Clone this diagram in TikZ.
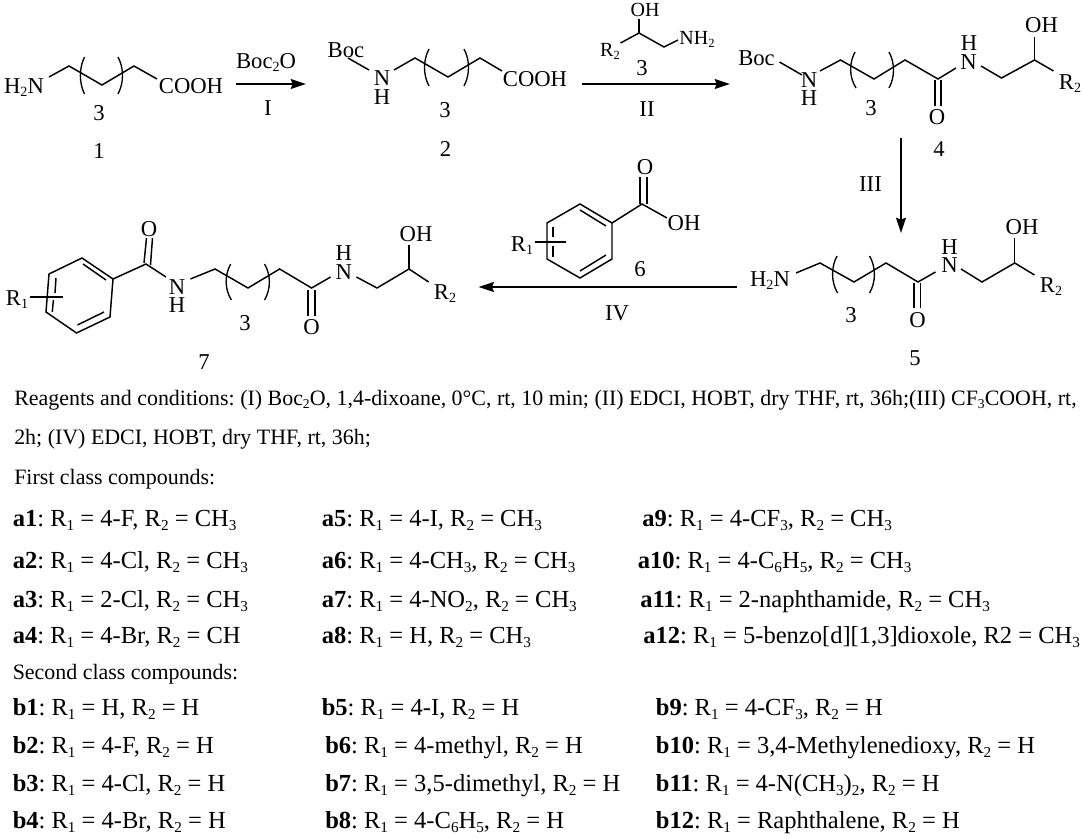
\documentclass[tikz,border=0pt]{standalone}
\usepackage{fontspec}
\setmainfont{Liberation Serif}
\usetikzlibrary{arrows.meta}
\newcommand{\sbx}[1]{\raisebox{-.32ex}{\scalebox{.62}{#1}}}
\tikzset{
  atom/.style={anchor=base,yshift=-5.6pt,inner sep=0pt,font=\fontsize{17}{20}\selectfont},
  small/.style={atom,font=\fontsize{15}{18}\selectfont},
  body/.style={anchor=base west,yshift=-5pt,inner sep=0pt,font=\fontsize{16.45}{19}\selectfont\frenchspacing},
  row/.style={anchor=base west,yshift=-5pt,inner sep=0pt,font=\fontsize{18.4}{20}\selectfont\frenchspacing},
  bond/.style={line width=1.1pt,line join=miter},
  paren/.style={line width=1pt},
  rxn/.style={line width=1.1pt,-{Stealth[length=11.5pt,width=7.5pt,inset=1.5pt]}},
}
\begin{document}
\begin{tikzpicture}[x=.75pt,y=-.75pt]
\useasboundingbox[fill=white] (0,0) rectangle (1084,838);
% compound 1
\node[atom] (h2n1) at (24,86) {H\sbx{2}N};
\node[atom] (cooh1) at (191,86) {COOH};
\node[atom] (n31) at (99,113) {3};
\node[atom] (lab1) at (99,151) {1};
\draw[bond] (49,77)--(69,66)--(102,85)--(134,66)--(157,79);
\draw[paren] (84.5,57) .. controls (79,68) and (79,83) .. (84.5,94);
\draw[paren] (118,57) .. controls (124,68) and (124,83) .. (118,94);
% arrow I
\coordinate (i1) at (235.5,84); \coordinate (i2) at (306,84);
\draw[rxn] (i1)--(i2);
\node[atom] (boc2o) at (266,61) {Boc\sbx{2}O};
\node[atom] (rI) at (268,108) {I};
% compound 2
\node[atom] (boc2) at (346,50) {Boc};
\node[atom] (n2) at (382,78) {N};
\node[atom] (h2) at (382,97) {H};
\node[atom] (cooh2) at (535,79) {COOH};
\node[atom] (n32) at (445,110) {3};
\node[atom] (lab2) at (445.5,149) {2};
\draw[bond] (348,58)--(369,70);
\draw[bond] (394,70)--(415,58)--(448,77)--(480,58)--(502,71);
\draw[paren] (429,49) .. controls (423,60) and (423,75) .. (429,86);
\draw[paren] (464,49) .. controls (470,60) and (470,75) .. (464,86);
% arrow II with reagent 3
\coordinate (ii1) at (582,84); \coordinate (ii2) at (730,84);
\draw[rxn] (ii1)--(ii2);
\node[small] (oh3) at (645,9) {OH};
\node[small] (r23) at (610,49) {R\sbx{2}};
\node[small] (nh23) at (697,37) {NH\sbx{2}};
\draw[bond] (639,19)--(639,33);
\draw[bond] (620.5,43)--(639,33)--(664,47)--(678,40);
\node[atom] (lab3) at (642,68) {3};
\node[atom] (rII) at (647,109) {II};
% compound 4
\node[atom] (boc4) at (756.5,58) {Boc};
\node[atom] (n4a) at (809,80) {N};
\node[atom] (h4a) at (809,98) {H};
\node[atom] (n34) at (871,108) {3};
\node[atom] (o4) at (937,117) {O};
\node[atom] (n4b) at (968.5,62) {N};
\node[atom] (h4b) at (969,43) {H};
\node[atom] (oh4) at (1041.5,25) {OH};
\node[atom] (r24) at (1070,82) {R\sbx{2}};
\node[atom] (lab4) at (939,149) {4};
\draw[bond] (779.5,62)--(802,75);
\draw[bond] (820,71)--(840.5,60)--(874,79)--(905,60)--(938,79)--(956,68);
\draw[bond] (935,80)--(935,106) (941,80)--(941,106);
\draw[bond] (981,66)--(1001.5,78)--(1034.5,60)--(1053.5,71);
\draw[bond] (1034.5,60)--(1034.5,37);
\draw[paren] (855,52) .. controls (849,63) and (849,77) .. (856,88);
\draw[paren] (889,52) .. controls (895,63) and (895,77) .. (889,88);
% arrow III
\coordinate (iii1) at (901,138); \coordinate (iii2) at (901,233);
\draw[rxn] (iii1)--(iii2);
\node[atom] (rIII) at (870.5,184) {III};
% compound 5
\node[atom] (h2n5) at (770,279) {H\sbx{2}N};
\node[atom] (n35) at (851,315) {3};
\node[atom] (o5) at (917.5,320) {O};
\node[atom] (n5) at (949.5,265) {N};
\node[atom] (h5) at (949.5,247) {H};
\node[atom] (oh5) at (1022,227) {OH};
\node[atom] (r25) at (1051,285) {R\sbx{2}};
\node[atom] (lab5) at (915,358) {5};
\draw[bond] (796,273)--(820,263)--(854,282)--(886,263)--(918,282)--(935.5,272);
\draw[bond] (914,283)--(914,308) (920.6,283)--(920.6,308);
\draw[bond] (961,269)--(982,282)--(1014.7,263)--(1034.5,275);
\draw[bond] (1014.7,263)--(1014.7,238);
\draw[paren] (837,256) .. controls (831,267) and (831,282) .. (837.5,293);
\draw[paren] (869.6,256) .. controls (876,267) and (876,282) .. (869.6,293);
% arrow IV with reagent 6
\coordinate (iv1) at (737,287); \coordinate (iv2) at (478.6,287);
\draw[rxn] (iv1)--(iv2);
\node[atom] (rIV) at (617,313) {IV};
\node[atom] (lab6) at (640,269) {6};
\node[atom] (r16) at (522,244) {R\sbx{1}};
\node[atom] (o6) at (645,167) {O};
\node[atom] (oh6) at (684,223) {OH};
\draw[bond] (580,204)--(612,223)--(612,259)--(580,278)--(547,259)--(547,223)--cycle;
\draw[bond] (580,210)--(606,226) (580,271)--(606,255);
\draw[bond] (553,227)--(553,237) (553,246)--(553,257);
\draw[bond] (535,242)--(566,242);
\draw[bond] (612,223)--(642,204)--(667,218);
\draw[bond] (640,204)--(640,177) (647,204)--(647,177);
% compound 7
\node[atom] (r17) at (17,298) {R\sbx{1}};
\node[atom] (o7a) at (149,229) {O};
\node[atom] (n7a) at (177,287) {N};
\node[atom] (h7a) at (177,305) {H};
\node[atom] (n37) at (245,323) {3};
\node[atom] (o7b) at (311.6,327) {O};
\node[atom] (n7b) at (343.7,272) {N};
\node[atom] (h7b) at (343.7,253) {H};
\node[atom] (oh7) at (416,234) {OH};
\node[atom] (r27) at (445,292) {R\sbx{2}};
\node[atom] (lab7) at (204,362) {7};
\draw[bond] (82,258)--(113,279)--(110,317)--(76.5,333)--(46,312)--(49,274)--cycle;
\draw[bond] (83,264)--(106,280) (77.5,325)--(104,312);
\draw[bond] (56,278)--(55,293) (53.4,300)--(52.3,312);
\draw[bond] (30,297)--(62.7,297);
\draw[bond] (113,279)--(146,264)--(166,277);
\draw[bond] (144,263)--(146.5,238) (150.5,265)--(152.5,238);
\draw[bond] (190.4,279)--(215,269)--(248,288)--(279.6,269)--(311.6,288)--(330.6,277);
\draw[bond] (308,290)--(308,316) (315,290)--(315,316);
\draw[bond] (356.4,277)--(377,288)--(409,269)--(428.7,282);
\draw[bond] (409,269)--(409,245);
\draw[paren] (230.7,264) .. controls (224.5,275) and (224.5,289) .. (231.4,300);
\draw[paren] (264.5,264) .. controls (271,275) and (271,289) .. (264.5,300);
% conditions
\node[body] (t1) at (14,399) {Reagents and conditions: (I) Boc\sbx{2}O, 1,4-dixoane, 0°C, rt, 10 min; (II) EDCI, HOBT, dry THF, rt, 36h;(III) CF\sbx{3}COOH, rt,};
\node[body] (t2) at (14,438) {2h; (IV) EDCI, HOBT, dry THF, rt, 36h;};
\node[body] (t3) at (14,478) {First class compounds:};
\node[row] (a1) at (12.5,520) {\textbf{a1}: R\sbx{1} = 4-F, R\sbx{2} = CH\sbx{3}};
\node[row] (a2) at (12.5,562) {\textbf{a2}: R\sbx{1} = 4-Cl, R\sbx{2} = CH\sbx{3}};
\node[row] (a3) at (12.5,601) {\textbf{a3}: R\sbx{1} = 2-Cl, R\sbx{2} = CH\sbx{3}};
\node[row] (a4) at (12.5,637) {\textbf{a4}: R\sbx{1} = 4-Br, R\sbx{2} = CH};
\node[row] (a5) at (321.5,520) {\textbf{a5}: R\sbx{1} = 4-I, R\sbx{2} = CH\sbx{3}};
\node[row] (a6) at (321.5,562) {\textbf{a6}: R\sbx{1} = 4-CH\sbx{3}, R\sbx{2} = CH\sbx{3}};
\node[row] (a7) at (321.5,601) {\textbf{a7}: R\sbx{1} = 4-NO\sbx{2}, R\sbx{2} = CH\sbx{3}};
\node[row] (a8) at (321.5,637) {\textbf{a8}: R\sbx{1} = H, R\sbx{2} = CH\sbx{3}};
\node[row] (a9) at (642,520) {\textbf{a9}: R\sbx{1} = 4-CF\sbx{3}, R\sbx{2} = CH\sbx{3}};
\node[row] (a10) at (637.6,562) {\textbf{a10}: R\sbx{1} = 4-C\sbx{6}H\sbx{5}, R\sbx{2} = CH\sbx{3}};
\node[row] (a11) at (640,601) {\textbf{a11}: R\sbx{1} = 2-naphthamide, R\sbx{2} = CH\sbx{3}};
\node[row] (a12) at (643,637) {\textbf{a12}: R\sbx{1} = 5-benzo[d][1,3]dioxole, R2 = CH\sbx{3}};
\node[body] (t4) at (12.5,673) {Second class compounds:};
\node[row] (b1) at (12.5,709) {\textbf{b1}: R\sbx{1} = H, R\sbx{2} = H};
\node[row] (b2) at (12.5,747) {\textbf{b2}: R\sbx{1} = 4-F, R\sbx{2} = H};
\node[row] (b3) at (12.5,785) {\textbf{b3}: R\sbx{1} = 4-Cl, R\sbx{2} = H};
\node[row] (b4) at (12.5,822) {\textbf{b4}: R\sbx{1} = 4-Br, R\sbx{2} = H};
\node[row] (b5) at (321.5,709) {\textbf{b5}: R\sbx{1} = 4-I, R\sbx{2} = H};
\node[row] (b6) at (325,747) {\textbf{b6}: R\sbx{1} = 4-methyl, R\sbx{2} = H};
\node[row] (b7) at (325,785) {\textbf{b7}: R\sbx{1} = 3,5-dimethyl, R\sbx{2} = H};
\node[row] (b8) at (325,822) {\textbf{b8}: R\sbx{1} = 4-C\sbx{6}H\sbx{5}, R\sbx{2} = H};
\node[row] (b9) at (655.6,709) {\textbf{b9}: R\sbx{1} = 4-CF\sbx{3}, R\sbx{2} = H};
\node[row] (b10) at (655.6,747) {\textbf{b10}: R\sbx{1} = 3,4-Methylenedioxy, R\sbx{2} = H};
\node[row] (b11) at (655.6,785) {\textbf{b11}: R\sbx{1} = 4-N(CH\sbx{3})\sbx{2}, R\sbx{2} = H};
\node[row] (b12) at (655.6,822) {\textbf{b12}: R\sbx{1} = Raphthalene, R\sbx{2} = H};
\end{tikzpicture}
\end{document}
